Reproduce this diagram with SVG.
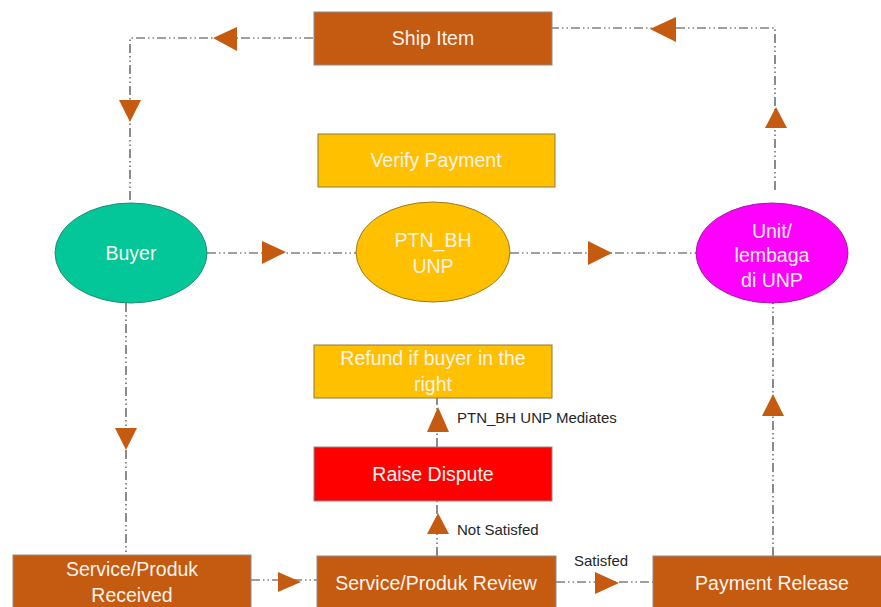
<svg xmlns="http://www.w3.org/2000/svg" width="881" height="607" viewBox="0 0 881 607">
<style>
.c{fill:none;stroke:#404040;stroke-width:1.2;stroke-dasharray:9 3 1.5 3 1.5 3}
.ah{fill:#C55A11}
.t{font-family:"Liberation Sans",Arial,sans-serif;font-size:19.5px;fill:#FDF3EC;text-anchor:middle}
.l{font-family:"Liberation Sans",Arial,sans-serif;font-size:15px;fill:#262626}
.br{fill:#C55A11;stroke:#8c8c8c;stroke-width:1}
.yr{fill:#FFC000;stroke:#8c7a3c;stroke-width:1}
</style>
<rect width="881" height="607" fill="#ffffff"/>
<g id="connectors">
<polyline class="c" points="313,38 130,38 130,203"/>
<polygon class="ah" points="213,38 237,27 237,51"/>
<polygon class="ah" points="119,100 141,100 130,122"/>
<polyline class="c" points="775,190 775,28 552,28"/>
<polygon class="ah" points="650,29 676,17 676,42"/>
<polygon class="ah" points="765,128 787,128 776,107"/>
<line class="c" x1="207" y1="253" x2="356" y2="253"/>
<polygon class="ah" points="262,241 262,264 286,252"/>
<line class="c" x1="510" y1="253" x2="697" y2="253"/>
<polygon class="ah" points="588,241 588,265 612,253"/>
<line class="c" x1="126" y1="303" x2="126" y2="555"/>
<polygon class="ah" points="115,428 137,428 126,450"/>
<line class="c" x1="773" y1="556" x2="773" y2="303"/>
<polygon class="ah" points="762,416 784,416 773,394"/>
<line class="c" x1="251" y1="580" x2="317" y2="580"/>
<polygon class="ah" points="278,572 278,592 301,582"/>
<line class="c" x1="556" y1="582" x2="653" y2="582"/>
<polygon class="ah" points="595,572 595,594 619,583"/>
<line class="c" x1="437" y1="556" x2="437" y2="501"/>
<polygon class="ah" points="427,534 449,534 438,513"/>
<line class="c" x1="437" y1="447" x2="437" y2="398"/>
<polygon class="ah" points="427,432 449,432 438,407"/>
<text class="l" x="457" y="423">PTN_BH UNP Mediates</text>
<text class="l" x="457" y="535">Not Satisfed</text>
<text class="l" x="574" y="566">Satisfed</text>
</g>
<g id="ship-item">
<rect class="br" x="314" y="12" width="238" height="53"/>
<text class="t" x="433" y="45">Ship Item</text>
</g>
<g id="verify-payment">
<rect class="yr" x="318" y="134" width="237" height="53"/>
<text class="t" x="436" y="167">Verify Payment</text>
</g>
<g id="buyer">
<ellipse cx="131" cy="253" rx="76" ry="50" fill="#03C699" stroke="#1f8f73" stroke-width="1"/>
<text class="t" x="131" y="260">Buyer</text>
</g>
<g id="ptn-bh-unp">
<ellipse cx="433" cy="252" rx="77" ry="50" fill="#FFC000" stroke="#9c7a1a" stroke-width="1"/>
<text class="t" x="433" y="247">PTN_BH</text>
<text class="t" x="433" y="273">UNP</text>
</g>
<g id="unit-lembaga">
<ellipse cx="772" cy="253" rx="76" ry="50" fill="#FF00FF" stroke="#a020a0" stroke-width="1"/>
<text class="t" x="772" y="238">Unit/</text>
<text class="t" x="772" y="262">lembaga</text>
<text class="t" x="772" y="287">di UNP</text>
</g>
<g id="refund">
<rect class="yr" x="314" y="345" width="238" height="53"/>
<text class="t" x="433" y="365">Refund if buyer in the</text>
<text class="t" x="433" y="391">right</text>
</g>
<g id="raise-dispute">
<rect x="314" y="447" width="238" height="54" fill="#FF0000" stroke="#8c8c8c" stroke-width="1"/>
<text class="t" x="433" y="481">Raise Dispute</text>
</g>
<g id="service-received">
<rect class="br" x="13" y="555" width="238" height="60"/>
<text class="t" x="132" y="576">Service/Produk</text>
<text class="t" x="132" y="602">Received</text>
</g>
<g id="service-review">
<rect class="br" x="317" y="556" width="239" height="60"/>
<text class="t" x="436" y="590">Service/Produk Review</text>
</g>
<g id="payment-release">
<rect class="br" x="653" y="556" width="239" height="60"/>
<text class="t" x="772" y="590">Payment Release</text>
</g>
</svg>
